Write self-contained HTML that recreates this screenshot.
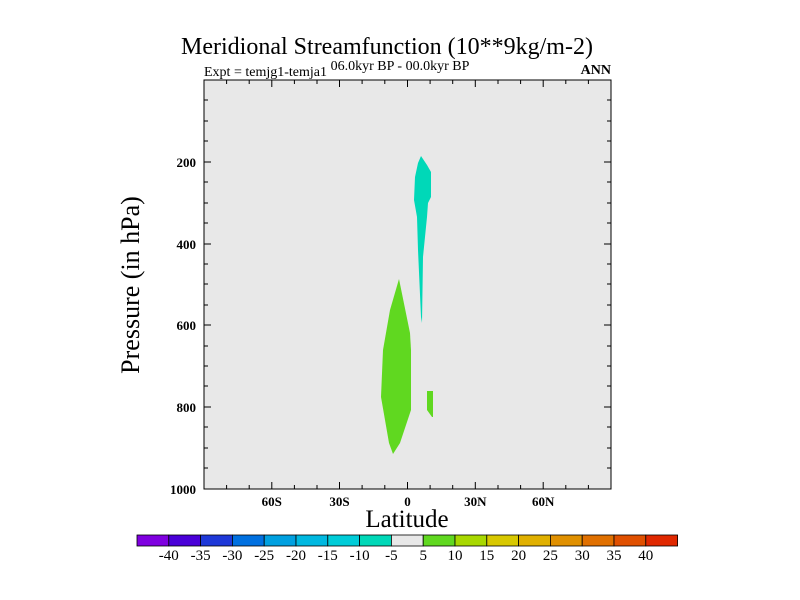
<!DOCTYPE html>
<html><head><meta charset="utf-8"><style>body{margin:0;background:#fff}svg{display:block}text{font-family:"Liberation Serif",serif;fill:#000}</style></head><body>
<svg width="800" height="600" xmlns="http://www.w3.org/2000/svg">
<text x="387" y="54" font-size="24" text-anchor="middle">Meridional Streamfunction (10**9kg/m-2)</text>
<text x="204" y="76" font-size="14">Expt = temjg1-temja1</text>
<text x="400" y="70" font-size="14" text-anchor="middle">06.0kyr BP - 00.0kyr BP</text>
<text x="611" y="74" font-size="14" font-weight="bold" text-anchor="end">ANN</text>
<rect x="204" y="80" width="407" height="409" fill="#e8e8e8"/>
<polygon points="421,156 427,165 431,172 431,197 428,203 427,217 423,257 422,323 421,317 418,250 417,217 414,200 415,177 418,163" fill="#00d8b8"/>
<polygon points="399,279 410,333 411,350 411,410 400,443 393,454 389,443 381,397 383,350 390,310" fill="#60d820"/>
<polygon points="427,391 433,391 433,417 432,417 427,410" fill="#60d820"/>
<rect x="204" y="80" width="407" height="409" fill="none" stroke="#000" stroke-width="1"/>
<g stroke="#000" stroke-width="1">
<path d="M271.8,489v-7M339.5,489v-7M407.5,489v-7M475.3,489v-7M543.2,489v-7M271.8,80v7M339.5,80v7M407.5,80v7M475.3,80v7M543.2,80v7"/>
<path d="M226.6,489v-4M249.2,489v-4M294.4,489v-4M317,489v-4M362.1,489v-4M384.8,489v-4M430.1,489v-4M452.7,489v-4M498,489v-4M520.6,489v-4M565.8,489v-4M588.4,489v-4M226.6,80v4M249.2,80v4M294.4,80v4M317,80v4M362.1,80v4M384.8,80v4M430.1,80v4M452.7,80v4M498,80v4M520.6,80v4M565.8,80v4M588.4,80v4"/>
<path d="M204,162h7M204,244h7M204,325h7M204,407h7M611,162h-7M611,244h-7M611,325h-7M611,407h-7"/>
<path d="M204,100h4M204,121h4M204,141h4M204,182h4M204,203h4M204,223h4M204,264h4M204,284h4M204,305h4M204,346h4M204,366h4M204,386h4M204,427h4M204,448h4M204,468h4M611,100h-4M611,121h-4M611,141h-4M611,182h-4M611,203h-4M611,223h-4M611,264h-4M611,284h-4M611,305h-4M611,346h-4M611,366h-4M611,386h-4M611,427h-4M611,448h-4M611,468h-4"/>
</g>
<g font-size="13" font-weight="bold" text-anchor="end">
<text x="196" y="167">200</text><text x="196" y="249">400</text><text x="196" y="330">600</text><text x="196" y="412">800</text><text x="196" y="494">1000</text>
</g>
<g font-size="13" font-weight="bold" text-anchor="middle">
<text x="271.8" y="506">60S</text><text x="339.5" y="506">30S</text><text x="407.5" y="506">0</text><text x="475.3" y="506">30N</text><text x="543.2" y="506">60N</text>
</g>
<text x="407" y="527" font-size="25" text-anchor="middle">Latitude</text>
<text transform="translate(139,285) rotate(-90)" font-size="26" text-anchor="middle">Pressure (in hPa)</text>
<g stroke="#000" stroke-width="0.8">
<rect x="137" y="535" width="31.8" height="11" fill="#7f00e0"/>
<rect x="168.8" y="535" width="31.8" height="11" fill="#4a00d8"/>
<rect x="200.6" y="535" width="31.8" height="11" fill="#1e38d8"/>
<rect x="232.4" y="535" width="31.8" height="11" fill="#0070e0"/>
<rect x="264.2" y="535" width="31.8" height="11" fill="#00a0e0"/>
<rect x="296" y="535" width="31.8" height="11" fill="#00b8e0"/>
<rect x="327.8" y="535" width="31.8" height="11" fill="#00ccd8"/>
<rect x="359.6" y="535" width="31.8" height="11" fill="#00d8b8"/>
<rect x="391.4" y="535" width="31.8" height="11" fill="#e8e8e8"/>
<rect x="423.2" y="535" width="31.8" height="11" fill="#60d820"/>
<rect x="455" y="535" width="31.8" height="11" fill="#a8d800"/>
<rect x="486.8" y="535" width="31.8" height="11" fill="#d8c800"/>
<rect x="518.6" y="535" width="31.8" height="11" fill="#e0b000"/>
<rect x="550.4" y="535" width="31.8" height="11" fill="#e09000"/>
<rect x="582.2" y="535" width="31.8" height="11" fill="#e07000"/>
<rect x="614" y="535" width="31.8" height="11" fill="#e05000"/>
<rect x="645.8" y="535" width="31.8" height="11" fill="#e02800"/>
</g>
<g font-size="15" text-anchor="middle">
<text x="168.8" y="560">-40</text><text x="200.6" y="560">-35</text><text x="232.4" y="560">-30</text><text x="264.2" y="560">-25</text><text x="296" y="560">-20</text><text x="327.8" y="560">-15</text><text x="359.6" y="560">-10</text><text x="391.4" y="560">-5</text><text x="423.2" y="560">5</text><text x="455" y="560">10</text><text x="486.8" y="560">15</text><text x="518.6" y="560">20</text><text x="550.4" y="560">25</text><text x="582.2" y="560">30</text><text x="614" y="560">35</text><text x="645.8" y="560">40</text>
</g>
</svg>
</body></html>
